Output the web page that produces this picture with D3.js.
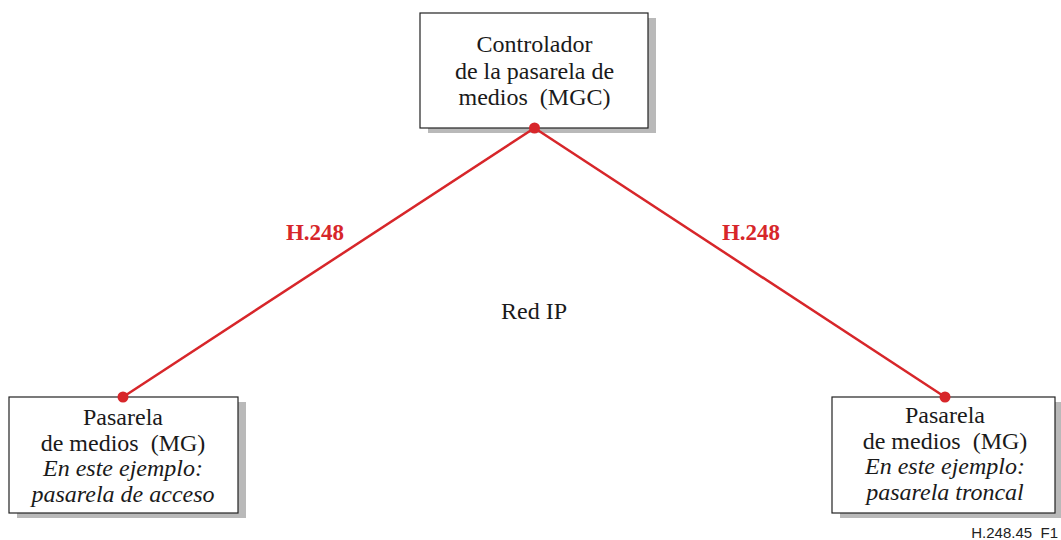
<!DOCTYPE html>
<html>
<head>
<meta charset="utf-8">
<script src="https://cdn.jsdelivr.net/npm/d3@7"></script>
<style>
  body { margin: 0; background: #fff; }
  svg { display: block; }
  text { white-space: pre; }
</style>
</head>
<body>
<svg id="chart" width="1061" height="540"></svg>
<script>
// nodes of the diagram
const nodeIds = ['mg_acceso', 'mgc', 'mg_troncal'];
const nodeCols = ['left', 'center', 'right'];
const nodeRows = ['bottom', 'top', 'bottom'];
const nodeLines = [
    [['Pasarela', false], ['de medios  (MG)', false], ['En este ejemplo:', true], ['pasarela de acceso', true]],
    [['Controlador', false], ['de la pasarela de', false], ['medios  (MGC)', false]],
    [['Pasarela', false], ['de medios  (MG)', false], ['En este ejemplo:', true], ['pasarela troncal', true]]
];
// links between nodes
const linkPairs = [['mgc', 'mg_acceso'], ['mgc', 'mg_troncal']];
const linkLabel = 'H.248';
const networkLabel = 'Red IP';
const figureId = 'H.248.45  F1';

const red = '#d7262a';
const serif = '"Liberation Serif", "Times New Roman", serif';
const svg = d3.select('#chart');

const x = d3.scalePoint().domain(['left', 'center', 'right']).range([123, 945]);
const y = d3.scaleOrdinal().domain(['top', 'bottom']).range([13, 397]);

const boxW = { left: 229, center: 228, right: 223 };
const boxH = { top: 115, bottom: 116 };

const nodes = nodeIds.map((id, i) => {
    const cx = x(nodeCols[i]);
    const w = boxW[nodeCols[i]];
    const h = boxH[nodeRows[i]];
    const left = nodeCols[i] === 'left' ? 9 : (nodeCols[i] === 'right' ? 832 : cx - 114);
    return { id, cx, x0: left, y0: y(nodeRows[i]), w, h, col: nodeCols[i], row: nodeRows[i], lines: nodeLines[i] };
});
const byId = new Map(nodes.map(n => [n.id, n]));

// anchor: bottom centre for top node, top edge at dot for bottom nodes
function anchor(n) {
    return n.row === 'top' ? [n.cx + 0.5, n.y0 + n.h] : [n.cx, n.y0];
}

const g = svg.append('g');

// shadows + boxes
const box = g.selectAll('g.node')
    .data(nodes)
    .join('g')
    .attr('class', 'node');

box.append('rect')
    .attr('x', d => d.x0 + 8)
    .attr('y', d => d.y0 + 5)
    .attr('width', d => d.w)
    .attr('height', d => d.h)
    .attr('fill', '#b9b9b9');

box.append('rect')
    .attr('x', d => d.x0)
    .attr('y', d => d.y0)
    .attr('width', d => d.w)
    .attr('height', d => d.h)
    .attr('fill', '#fff')
    .attr('stroke', '#222')
    .attr('stroke-width', 1.2);

box.each(function (d) {
    const firstBase = d.row === 'top' ? d.y0 + 39 : (d.col === 'right' ? d.y0 + 26 : d.y0 + 28);
    const step = d.row === 'top' ? 26.5 : 25.5;
    d3.select(this).selectAll('text')
        .data(d.lines)
        .join('text')
        .attr('x', d.cx + (d.row === 'top' ? 0.5 : 0))
        .attr('y', (l, i) => firstBase + i * step)
        .attr('text-anchor', 'middle')
        .attr('font-family', serif)
        .attr('font-size', 24)
        .attr('font-style', l => l[1] ? 'italic' : 'normal')
        .attr('fill', '#1a1a1a')
        .text(l => l[0]);
});

// links
const links = linkPairs.map(([s, t]) => ({ s: anchor(byId.get(s)), t: anchor(byId.get(t)) }));

g.selectAll('line.link')
    .data(links)
    .join('line')
    .attr('class', 'link')
    .attr('x1', d => d.s[0]).attr('y1', d => d.s[1])
    .attr('x2', d => d.t[0]).attr('y2', d => d.t[1])
    .attr('stroke', red)
    .attr('stroke-width', 2.5);

const dots = [anchor(byId.get('mgc')), ...linkPairs.map(p => anchor(byId.get(p[1])))];
g.selectAll('circle.dot')
    .data(dots)
    .join('circle')
    .attr('class', 'dot')
    .attr('cx', d => d[0])
    .attr('cy', d => d[1])
    .attr('r', 5.5)
    .attr('fill', red);

// link labels
g.selectAll('text.link-label')
    .data(links)
    .join('text')
    .attr('class', 'link-label')
    .attr('x', d => d.t[0] < d.s[0] ? 315 : 751)
    .attr('y', 240)
    .attr('text-anchor', 'middle')
    .attr('font-family', serif)
    .attr('font-weight', 'bold')
    .attr('font-size', 23)
    .attr('fill', red)
    .text(linkLabel);

g.append('text')
    .attr('x', x('center'))
    .attr('y', 319)
    .attr('text-anchor', 'middle')
    .attr('font-family', serif)
    .attr('font-size', 24)
    .attr('fill', '#1a1a1a')
    .text(networkLabel);

g.append('text')
    .attr('x', 1058)
    .attr('y', 538)
    .attr('text-anchor', 'end')
    .attr('font-family', '"Liberation Sans", Arial, sans-serif')
    .attr('font-size', 15)
    .attr('fill', '#222')
    .text(figureId);
</script>
</body>
</html>
